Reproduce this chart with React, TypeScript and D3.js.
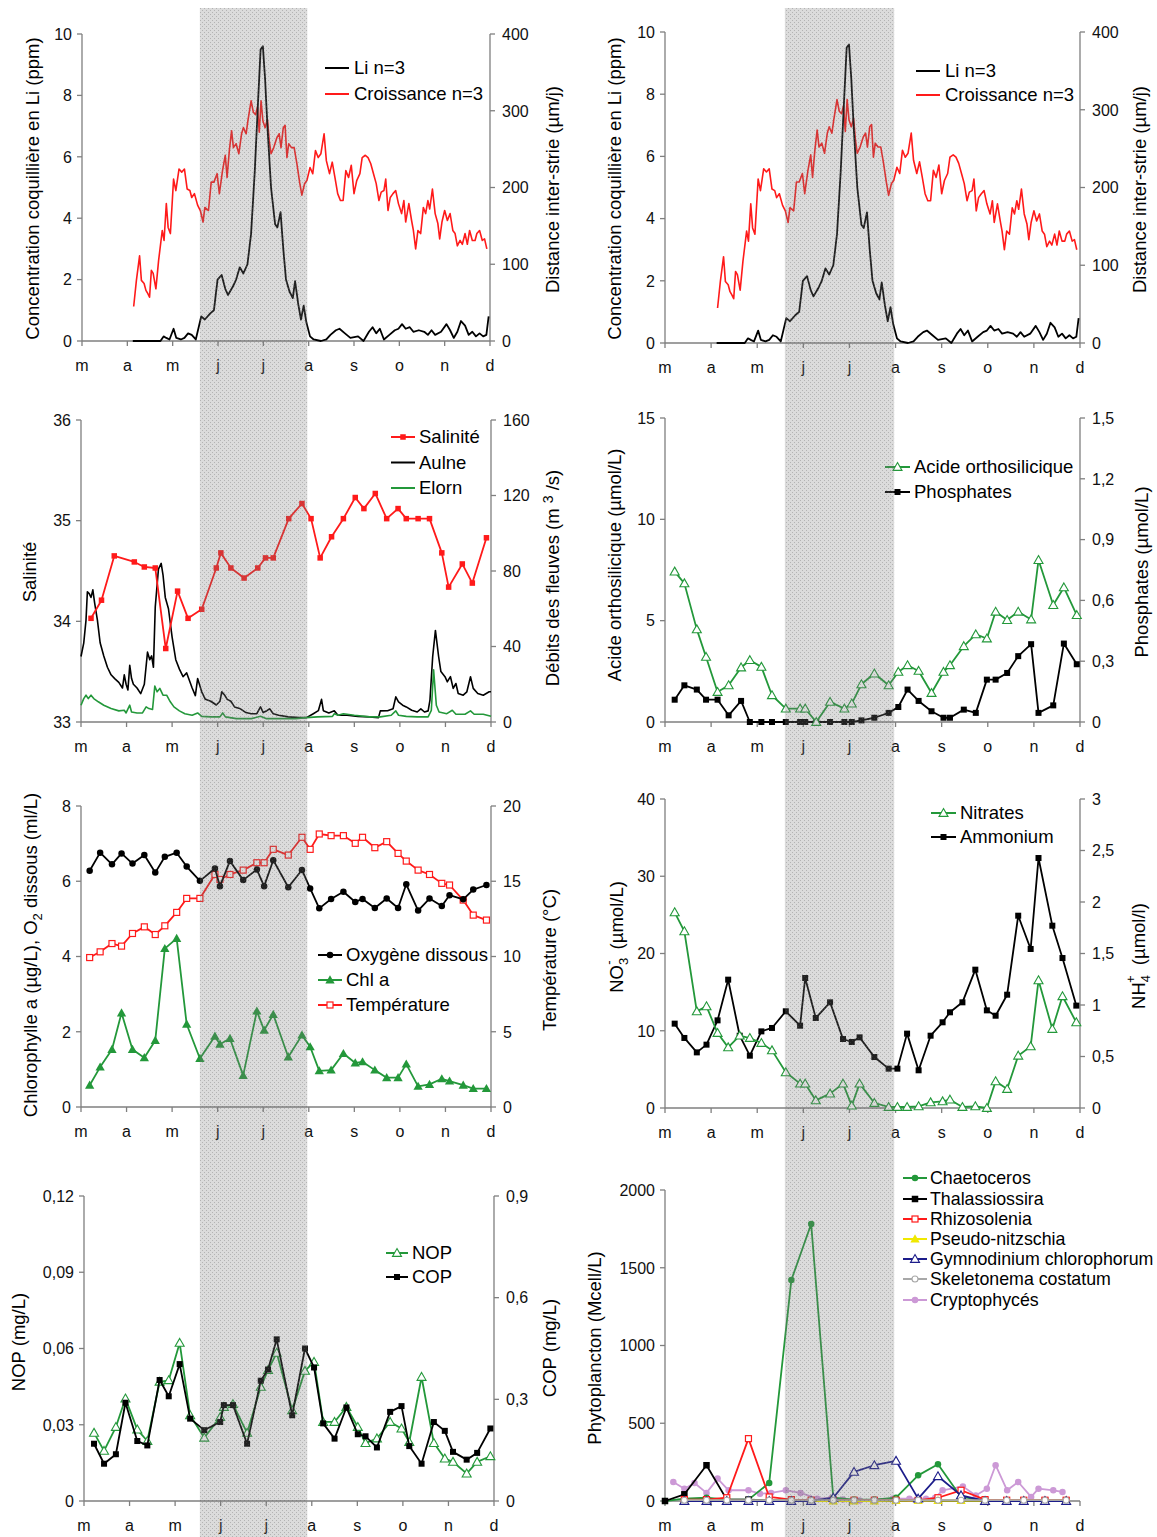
import React from "react";
import * as d3 from "d3";

const FONT = "'Liberation Sans', Arial, Helvetica, sans-serif";
const AXIS_COLOR = "#7f7f7f";
const RED = "#ff1a1a";
const GREEN = "#23983a";
const BLACK = "#000000";
const NAVY = "#1c1c8a";
const YELLOW = "#f0e800";
const GRAY = "#a8a8a8";
const PINK = "#cc99d6";

const MONTHS = ["m", "a", "m", "j", "j", "a", "s", "o", "n", "d"];
const SHADE_PERIOD = [2.6, 4.97];

// ---------- Panel 1 : Li & growth (x = months since 1 March) ----------
const liSeries: [number, number][] = [
  [1.12, 0], [1.73, 0], [1.8, 0.15], [1.86, 0.1], [1.93, 0.05], [2.02, 0.4], [2.08, 0.1], [2.18, 0.05], [2.26, 0.1], [2.34, 0.25],
  [2.42, 0.2], [2.51, 0.05], [2.63, 0.8], [2.71, 0.7], [2.83, 0.9], [2.91, 1.0], [2.99, 2.0], [3.08, 2.15], [3.16, 1.7], [3.22, 1.5],
  [3.32, 1.75], [3.4, 2.0], [3.48, 2.4], [3.56, 2.2], [3.65, 2.5], [3.73, 3.5], [3.81, 5.5], [3.89, 8.0], [3.94, 9.5], [3.99, 9.6],
  [4.04, 8.5], [4.09, 7.0], [4.17, 5.0], [4.26, 3.8], [4.31, 3.7], [4.38, 4.2], [4.44, 3.0], [4.5, 2.0], [4.58, 1.6], [4.65, 1.4],
  [4.7, 1.95], [4.77, 1.2], [4.83, 0.7], [4.89, 1.15], [4.95, 0.6], [5.03, 0.15], [5.11, 0.05], [5.27, 0], [5.39, 0.05], [5.48, 0.2],
  [5.6, 0.35], [5.68, 0.4], [5.8, 0.25], [5.92, 0.1], [6.09, 0.15], [6.21, 0.0], [6.33, 0.3], [6.41, 0.45], [6.49, 0.25], [6.57, 0.4],
  [6.66, 0.05], [6.78, 0.2], [6.9, 0.35], [6.98, 0.4], [7.06, 0.55], [7.14, 0.4], [7.23, 0.45], [7.31, 0.3], [7.43, 0.35], [7.55, 0.3],
  [7.63, 0.2], [7.71, 0.35], [7.79, 0.2], [7.92, 0.3], [8.04, 0.55], [8.12, 0.35], [8.2, 0.1], [8.28, 0.3], [8.36, 0.65], [8.45, 0.5],
  [8.53, 0.2], [8.61, 0.3], [8.69, 0.15], [8.77, 0.25], [8.85, 0.15], [8.92, 0.2], [8.97, 0.8],
];

const growthSeries: [number, number][] = [
  [1.14, 45], [1.2, 79], [1.27, 111], [1.31, 79], [1.37, 75], [1.41, 66], [1.45, 62], [1.49, 57], [1.53, 92], [1.57, 88],
  [1.63, 68], [1.69, 105], [1.77, 144], [1.81, 131], [1.86, 179], [1.9, 148], [1.95, 140], [2.02, 211], [2.07, 196], [2.14, 224],
  [2.2, 220], [2.26, 224], [2.32, 198], [2.38, 196], [2.42, 187], [2.48, 192], [2.55, 177], [2.61, 170], [2.67, 155], [2.71, 174],
  [2.79, 170], [2.85, 207], [2.91, 207], [2.98, 218], [3.03, 192], [3.1, 222], [3.16, 242], [3.2, 213], [3.25, 248], [3.3, 274],
  [3.34, 252], [3.4, 257], [3.46, 244], [3.52, 270], [3.56, 278], [3.62, 270], [3.66, 287], [3.73, 313], [3.78, 298], [3.83, 295],
  [3.87, 305], [3.91, 272], [3.95, 313], [3.99, 287], [4.04, 278], [4.09, 289], [4.13, 261], [4.17, 244], [4.23, 252], [4.3, 265],
  [4.35, 270], [4.39, 252], [4.44, 278], [4.48, 281], [4.52, 239], [4.56, 257], [4.62, 252], [4.68, 252], [4.74, 231], [4.8, 207],
  [4.85, 190], [4.91, 205], [4.96, 209], [5.03, 226], [5.09, 218], [5.15, 248], [5.21, 239], [5.27, 244], [5.34, 270], [5.39, 235],
  [5.46, 218], [5.52, 233], [5.58, 213], [5.64, 192], [5.7, 183], [5.76, 183], [5.82, 222], [5.88, 213], [5.94, 229], [6.0, 192],
  [6.06, 209], [6.13, 218], [6.18, 239], [6.25, 242], [6.31, 239], [6.37, 231], [6.43, 218], [6.49, 205], [6.55, 183], [6.6, 194],
  [6.66, 196], [6.7, 211], [6.75, 170], [6.8, 187], [6.86, 192], [6.92, 196], [6.98, 179], [7.05, 166], [7.1, 183], [7.14, 155],
  [7.21, 179], [7.27, 157], [7.31, 144], [7.36, 120], [7.41, 144], [7.47, 140], [7.53, 174], [7.58, 166], [7.63, 183], [7.67, 172],
  [7.73, 198], [7.79, 166], [7.85, 153], [7.89, 133], [7.94, 155], [8.0, 170], [8.06, 157], [8.12, 166], [8.18, 144], [8.23, 140],
  [8.28, 124], [8.34, 131], [8.39, 126], [8.45, 140], [8.5, 126], [8.55, 144], [8.61, 131], [8.67, 131], [8.71, 140], [8.77, 144],
  [8.83, 131], [8.88, 133], [8.93, 120],
];

// ---------- Panel 2 left : salinity & river flows ----------
const salX = [0.22, 0.45, 0.73, 1.17, 1.39, 1.63, 1.86, 2.12, 2.35, 2.65, 2.97, 3.07, 3.29, 3.58, 3.88, 4.05, 4.22, 4.56, 4.85, 5.05, 5.25, 5.5, 5.76, 6.02, 6.21, 6.46, 6.71, 6.96, 7.14, 7.4, 7.65, 7.92, 8.07, 8.37, 8.59, 8.9];
const salY = [34.03, 34.21, 34.65, 34.59, 34.54, 34.53, 33.73, 34.3, 34.03, 34.12, 34.53, 34.68, 34.53, 34.43, 34.53, 34.63, 34.63, 35.02, 35.17, 35.02, 34.63, 34.84, 35.02, 35.23, 35.12, 35.27, 35.02, 35.12, 35.02, 35.02, 35.02, 34.68, 34.34, 34.57, 34.38, 34.83];

const aulneSeries: [number, number][] = [
  [0.0, 34.7], [0.06, 41.8], [0.11, 54], [0.14, 69], [0.18, 68], [0.22, 66], [0.26, 70], [0.3, 63], [0.36, 54], [0.42, 42],
  [0.5, 35], [0.58, 29], [0.66, 25], [0.74, 23], [0.83, 21], [0.91, 18], [0.95, 25], [0.99, 20], [1.03, 17], [1.07, 30],
  [1.11, 23], [1.15, 20], [1.23, 18], [1.31, 15], [1.39, 20], [1.46, 37], [1.51, 33], [1.55, 35], [1.59, 29], [1.63, 61],
  [1.7, 81], [1.76, 84], [1.8, 78], [1.85, 66], [1.92, 60], [2.0, 45], [2.08, 33], [2.16, 28], [2.24, 24], [2.32, 26],
  [2.38, 22], [2.44, 18], [2.51, 14], [2.56, 23], [2.65, 16], [2.73, 12], [2.85, 11], [2.97, 9], [3.05, 11], [3.09, 16],
  [3.16, 14], [3.21, 12], [3.29, 11], [3.37, 8], [3.5, 7], [3.62, 5], [3.74, 4.4], [3.86, 4.4], [3.94, 8], [4.0, 5],
  [4.08, 6], [4.14, 7], [4.22, 4.4], [4.34, 3.6], [4.55, 2.7], [4.79, 2.3], [4.95, 2.3], [5.1, 4.4], [5.21, 6], [5.28, 12],
  [5.32, 6], [5.44, 4.8], [5.56, 5.9], [5.64, 3.6], [5.84, 3.6], [6.08, 3], [6.33, 2.7], [6.53, 2.3], [6.57, 5.9], [6.73, 6],
  [6.85, 7], [6.91, 13.3], [6.97, 10.7], [7.06, 8.9], [7.14, 8], [7.26, 6.2], [7.38, 5.3], [7.46, 7], [7.54, 5.3], [7.62, 5.9],
  [7.66, 11.6], [7.72, 34.7], [7.78, 48.5], [7.85, 34.7], [7.9, 26.7], [7.99, 24], [8.04, 21.3], [8.11, 24], [8.17, 17.8], [8.23, 20.4],
  [8.28, 15.1], [8.39, 14.2], [8.47, 16], [8.55, 24], [8.61, 17.8], [8.71, 15.1], [8.83, 14.2], [8.96, 16], [9.0, 16],
];

const elornSeries: [number, number][] = [
  [0.0, 8.9], [0.06, 12.4], [0.11, 14.2], [0.16, 12.4], [0.22, 14.2], [0.28, 12.4], [0.38, 10.7], [0.5, 8.9], [0.66, 7.1], [0.83, 5.9],
  [0.95, 6.2], [0.99, 4.8], [1.07, 8.9], [1.11, 5.3], [1.23, 4.8], [1.35, 4.8], [1.43, 8], [1.49, 7.1], [1.57, 6.6], [1.62, 19],
  [1.67, 16], [1.73, 17.8], [1.8, 14.2], [1.88, 14.2], [1.96, 10.7], [2.04, 8], [2.16, 5.9], [2.28, 4.4], [2.44, 3.6], [2.56, 4.8],
  [2.65, 3], [2.85, 2.7], [3.05, 2.7], [3.11, 4.8], [3.17, 2.7], [3.41, 1.8], [3.74, 1.8], [3.94, 3], [4.06, 1.8], [4.39, 1.8],
  [4.71, 1.8], [4.95, 2.3], [5.19, 2.7], [5.52, 3], [5.56, 4.4], [5.64, 3.6], [5.76, 4.4], [6.0, 3.6], [6.33, 2.7], [6.57, 2.7],
  [6.81, 3.6], [6.91, 5.9], [6.97, 3.6], [7.14, 3], [7.38, 2.7], [7.62, 2.7], [7.69, 6.2], [7.74, 27.6], [7.8, 8.9], [7.86, 5.3],
  [8.03, 4.4], [8.15, 6.2], [8.23, 4.1], [8.43, 4.1], [8.55, 5.9], [8.63, 4.1], [8.83, 4.1], [9.0, 3],
];

// ---------- Panel 2 right : silicate & phosphate ----------
const nutX = [0.21, 0.42, 0.69, 0.89, 1.14, 1.38, 1.65, 1.84, 2.09, 2.32, 2.62, 2.93, 3.04, 3.28, 3.58, 3.89, 4.05, 4.26, 4.54, 4.85, 5.06, 5.26, 5.5, 5.78, 6.04, 6.18, 6.48, 6.74, 6.98, 7.17, 7.42, 7.66, 7.94, 8.1, 8.42, 8.65, 8.93];
const siY = [7.42, 6.84, 4.57, 3.21, 1.48, 1.81, 2.69, 3.05, 2.72, 1.32, 0.66, 0.66, 0.66, 0, 0.99, 0.66, 0.91, 1.86, 2.39, 1.81, 2.47, 2.8, 2.52, 1.43, 2.47, 2.8, 3.74, 4.32, 4.12, 5.44, 5.03, 5.44, 5.06, 7.99, 5.77, 6.64, 5.27];
const po4Y = [0.11, 0.181, 0.16, 0.11, 0.11, 0.033, 0.104, 0, 0, 0, 0, 0, 0, 0, 0, 0, 0, 0.008, 0.021, 0.045, 0.074, 0.16, 0.104, 0.053, 0.021, 0.021, 0.061, 0.045, 0.209, 0.209, 0.242, 0.325, 0.384, 0.045, 0.082, 0.387, 0.285];

// ---------- Panel 3 left : O2, Chl a, temperature ----------
const hydroX = [0.19, 0.42, 0.68, 0.89, 1.13, 1.39, 1.63, 1.84, 2.1, 2.32, 2.61, 2.94, 3.05, 3.27, 3.56, 3.86, 4.02, 4.22, 4.55, 4.85, 5.03, 5.23, 5.49, 5.76, 6.02, 6.18, 6.45, 6.71, 6.96, 7.14, 7.4, 7.65, 7.92, 8.09, 8.39, 8.61, 8.9];
const o2Y = [6.28, 6.76, 6.45, 6.74, 6.47, 6.7, 6.23, 6.65, 6.76, 6.39, 6.01, 6.34, 5.87, 6.54, 6.03, 6.31, 5.87, 6.56, 5.84, 6.3, 5.81, 5.28, 5.53, 5.72, 5.45, 5.53, 5.29, 5.54, 5.29, 5.92, 5.22, 5.54, 5.34, 5.63, 5.52, 5.78, 5.9];
const chlY = [0.58, 1.06, 1.53, 2.5, 1.53, 1.31, 1.77, 4.21, 4.48, 2.2, 1.29, 1.88, 1.67, 1.82, 0.84, 2.55, 2.04, 2.46, 1.33, 1.91, 1.6, 0.96, 0.98, 1.42, 1.17, 1.2, 0.98, 0.78, 0.78, 1.14, 0.55, 0.6, 0.75, 0.69, 0.58, 0.49, 0.49];
const tempY = [9.93, 10.31, 10.86, 10.69, 11.53, 11.97, 11.46, 12.04, 12.93, 13.86, 13.86, 15.45, 15.12, 15.45, 15.74, 16.23, 16.23, 17.12, 16.74, 17.92, 17.12, 18.14, 18.03, 18.03, 17.52, 17.92, 17.23, 17.63, 16.85, 16.34, 15.74, 15.45, 14.86, 14.75, 13.75, 12.75, 12.42];

// ---------- Panel 3 right : nitrate & ammonium ----------
const nitX = [0.21, 0.42, 0.69, 0.9, 1.14, 1.37, 1.62, 1.84, 2.09, 2.32, 2.62, 2.93, 3.04, 3.27, 3.58, 3.86, 4.05, 4.22, 4.54, 4.85, 5.04, 5.25, 5.5, 5.76, 6.02, 6.18, 6.45, 6.73, 6.98, 7.17, 7.42, 7.66, 7.93, 8.1, 8.4, 8.62, 8.92];
const no3Y = [25.33, 22.87, 12.51, 13.16, 9.71, 7.85, 9.36, 9.06, 8.41, 7.46, 4.62, 3.15, 3.15, 0.99, 1.86, 3.15, 0.3, 3.15, 0.65, 0.13, 0.13, 0.13, 0.22, 0.73, 0.86, 1.08, 0.13, 0.22, 0, 3.45, 2.46, 6.77, 7.98, 16.53, 10.23, 14.46, 11.09];
const nh4Y = [0.819, 0.68, 0.54, 0.615, 0.851, 1.246, 0.702, 0.508, 0.744, 0.777, 0.939, 0.799, 1.262, 0.874, 1.026, 0.67, 0.641, 0.686, 0.495, 0.382, 0.382, 0.722, 0.366, 0.702, 0.832, 0.929, 1.026, 1.343, 0.948, 0.896, 1.1, 1.867, 1.544, 2.427, 1.77, 1.456, 0.994];

// ---------- Panel 4 left : NOP & COP ----------
const partX = [0.22, 0.44, 0.7, 0.91, 1.17, 1.39, 1.66, 1.86, 2.1, 2.33, 2.64, 2.99, 3.07, 3.27, 3.58, 3.88, 4.04, 4.23, 4.57, 4.85, 5.05, 5.25, 5.5, 5.76, 6.01, 6.18, 6.43, 6.72, 6.97, 7.14, 7.41, 7.68, 7.92, 8.1, 8.4, 8.63, 8.92];
const nopY = [0.0268, 0.0197, 0.0291, 0.0403, 0.0281, 0.0236, 0.0469, 0.0475, 0.0622, 0.0337, 0.0249, 0.033, 0.037, 0.0381, 0.0268, 0.0449, 0.0515, 0.0583, 0.0357, 0.0512, 0.0547, 0.0311, 0.0311, 0.037, 0.0291, 0.0228, 0.0246, 0.0311, 0.0285, 0.0232, 0.0488, 0.0228, 0.0167, 0.0154, 0.0108, 0.0154, 0.0176];
const copY = [0.169, 0.11, 0.138, 0.29, 0.177, 0.164, 0.357, 0.309, 0.404, 0.243, 0.209, 0.233, 0.283, 0.283, 0.169, 0.355, 0.388, 0.477, 0.253, 0.45, 0.394, 0.229, 0.184, 0.276, 0.197, 0.191, 0.158, 0.263, 0.28, 0.162, 0.11, 0.233, 0.207, 0.145, 0.122, 0.142, 0.214];

// ---------- Panel 4 right : phytoplankton ----------
const phytoX = [0, 0.42, 0.9, 1.34, 1.81, 2.26, 2.74, 3.17, 3.65, 4.1, 4.54, 5.01, 5.49, 5.92, 6.42, 6.94, 7.41, 7.78, 8.24, 8.7];
const chaetY = [0, 15, 21, 9, 9, 116, 1421, 1781, 21, 9, 9, 21, 165, 236, 26, 4, 2, 2, 2, 2];
const thalY = [0, 43, 230, 9, 9, 4, 4, 4, 4, 3, 3, 3, 3, 3, 3, 3, 3, 3, 3, 3];
const rhizY = [null, 9, 9, 21, 401, 26, 9, 5, 5, 5, 5, 5, 4, 21, 69, 9, 5, 5, 5, 5];
const pseudoY = [null, 3, 3, 3, 3, 3, 2, 0, 0, 0, 0, 3, 3, 3, 3, 2, 2, 2, 2, 2];
const gymnoY = [null, 0, 0, 0, 0, 0, 0, 0, 21, 187, 230, 258, 15, 159, 36, 0, 0, 0, 0, 0];
const skelY = [null, 5, 5, 5, 5, 5, 5, 5, 5, 5, 5, 5, 5, 5, 5, 5, 5, 5, 5, 5];
const cryptoX = [0.18, 0.42, 0.64, 0.9, 1.14, 1.38, 1.81, 2.06, 2.3, 2.62, 2.94, 3.3, 3.62, 3.86, 4.22, 4.54, 4.94, 5.3, 5.66, 5.86, 6.02, 6.46, 6.74, 6.98, 7.17, 7.42, 7.66, 7.94, 8.1, 8.42, 8.62];
const cryptoY = [122, 79, 116, 52, 144, 69, 69, 47, 52, 69, 52, 15, 21, 9, 4, 9, 15, 15, 15, 21, 69, 94, 36, 79, 230, 69, 122, 26, 79, 69, 58];

// ---------- Tick values ----------
const liTicks = [0, 2, 4, 6, 8, 10];
const growthTicks = [0, 100, 200, 300, 400];
const salTicks = [33, 34, 35, 36];
const flowTicks = [0, 40, 80, 120, 160];
const siTicks = [0, 5, 10, 15];
const po4Ticks = [0, 0.3, 0.6, 0.9, 1.2, 1.5];
const chlTicks = [0, 2, 4, 6, 8];
const tempTicks = [0, 5, 10, 15, 20];
const no3Ticks = [0, 10, 20, 30, 40];
const nh4Ticks = [0, 0.5, 1, 1.5, 2, 2.5, 3];
const nopTicks = [0, 0.03, 0.06, 0.09, 0.12];
const copTicks = [0, 0.3, 0.6, 0.9];
const phytoTicks = [0, 500, 1000, 1500, 2000];

const fr = d3.formatLocale({ decimal: ",", thousands: " ", grouping: [3], currency: ["", " €"] });
const fmt = fr.format("~g");

const TITLE_SIZE = 18.5;
const LEGEND_SIZE = 18.5;
const TICK_SIZE = 16;

type Pt = [number, number | null];
type Mk = "sq" | "sqo" | "tri" | "trio" | "ci" | "cio" | "none";
interface Series { pts: Pt[]; axis: "L" | "R"; color: string; mk: Mk; w?: number; ms?: number; }
interface LegendItem { label: string; color: string; mk: Mk; ms?: number; }
interface Cfg {
  x0: number; x1: number; top: number; bottom: number;
  lDom: [number, number]; lTicks: number[];
  rDom?: [number, number]; rTicks?: number[];
  lTitle: React.ReactNode; lTitlePos: [number, number];
  rTitle?: React.ReactNode; rTitlePos?: [number, number];
  series: Series[];
  legend: { x1: number; x2: number; tx: number; ys: number[]; items: LegendItem[]; size?: number };
}

const zipPts = (xs: number[], ys: (number | null)[]): Pt[] => xs.map((x, i) => [x, ys[i]] as Pt);

function marker(mk: Mk, cx: number, cy: number, color: string, s: number, key?: React.Key) {
  const h = s / 2;
  switch (mk) {
    case "sq":
      return <rect key={key} x={cx - h} y={cy - h} width={s} height={s} fill={color} />;
    case "sqo":
      return <rect key={key} x={cx - h + 0.5} y={cy - h + 0.5} width={s - 1} height={s - 1} fill="#fff" stroke={color} strokeWidth={1.2} />;
    case "tri": {
      const r = s * 0.62;
      return <path key={key} d={`M${cx},${cy - r}L${cx + r},${cy + r * 0.75}L${cx - r},${cy + r * 0.75}Z`} fill={color} />;
    }
    case "trio": {
      const r = s * 0.6;
      return <path key={key} d={`M${cx},${cy - r}L${cx + r},${cy + r * 0.75}L${cx - r},${cy + r * 0.75}Z`} fill="#fff" stroke={color} strokeWidth={1.1} />;
    }
    case "ci":
      return <circle key={key} cx={cx} cy={cy} r={h} fill={color} />;
    case "cio":
      return <circle key={key} cx={cx} cy={cy} r={h - 0.5} fill="#fff" stroke={color} strokeWidth={1.1} />;
    default:
      return null;
  }
}

function Panel({ c }: { c: Cfg }) {
  const x = d3.scaleLinear().domain([0, 9]).range([c.x0, c.x1]);
  const yl = d3.scaleLinear().domain(c.lDom).range([c.bottom, c.top]);
  const yr = c.rDom ? d3.scaleLinear().domain(c.rDom).range([c.bottom, c.top]) : yl;
  const tl = 5;
  const axisProps = { stroke: AXIS_COLOR, strokeWidth: 1.3 };
  return (
    <g fontFamily={FONT}>
      <line x1={c.x0} y1={c.top} x2={c.x0} y2={c.bottom} {...axisProps} />
      <line x1={c.x0} y1={c.bottom} x2={c.x1} y2={c.bottom} {...axisProps} />
      {c.rDom && <line x1={c.x1} y1={c.top} x2={c.x1} y2={c.bottom} {...axisProps} />}
      {c.lTicks.map((t) => (
        <g key={"l" + t}>
          <line x1={c.x0 - tl} x2={c.x0} y1={yl(t)} y2={yl(t)} {...axisProps} />
          <text x={c.x0 - 10} y={yl(t)} dy="0.36em" textAnchor="end" fontSize={TICK_SIZE} fill="#111">{fmt(t)}</text>
        </g>
      ))}
      {c.rDom && c.rTicks && c.rTicks.map((t) => (
        <g key={"r" + t}>
          <line x1={c.x1} x2={c.x1 + tl} y1={yr(t)} y2={yr(t)} {...axisProps} />
          <text x={c.x1 + 12} y={yr(t)} dy="0.36em" textAnchor="start" fontSize={TICK_SIZE} fill="#111">{fmt(t)}</text>
        </g>
      ))}
      {MONTHS.map((m, i) => (
        <g key={"m" + i}>
          <line x1={x(i)} x2={x(i)} y1={c.bottom} y2={c.bottom + tl} {...axisProps} />
          <text x={x(i)} y={c.bottom + 30} textAnchor="middle" fontSize={TICK_SIZE} fill="#111">{m}</text>
        </g>
      ))}
      {c.series.map((s, si) => {
        const ys = s.axis === "R" ? yr : yl;
        const gen = d3.line<Pt>().defined((d) => d[1] != null).x((d) => x(d[0])).y((d) => ys(d[1] as number));
        return (
          <g key={"s" + si}>
            <path d={gen(s.pts) || ""} fill="none" stroke={s.color} strokeWidth={s.w ?? 1.8} strokeLinejoin="round" />
            {s.mk !== "none" && s.pts.filter((d) => d[1] != null).map((d, i) => marker(s.mk, x(d[0]), ys(d[1] as number), s.color, s.ms ?? 6, i))}
          </g>
        );
      })}
      {c.legend.items.map((it, i) => {
        const y = c.legend.ys[i];
        return (
          <g key={"lg" + i}>
            <line x1={c.legend.x1} x2={c.legend.x2} y1={y} y2={y} stroke={it.color} strokeWidth={2} />
            {marker(it.mk, (c.legend.x1 + c.legend.x2) / 2, y, it.color, it.ms ?? 6)}
            <text x={c.legend.tx} y={y} dy="0.35em" fontSize={c.legend.size ?? LEGEND_SIZE} fill="#000">{it.label}</text>
          </g>
        );
      })}
      <text transform={`translate(${c.lTitlePos[0]},${c.lTitlePos[1]}) rotate(-90)`} textAnchor="middle" dy="0.35em" fontSize={TITLE_SIZE} fill="#000">{c.lTitle}</text>
      {c.rTitle && c.rTitlePos && (
        <text transform={`translate(${c.rTitlePos[0]},${c.rTitlePos[1]}) rotate(-90)`} textAnchor="middle" dy="0.35em" fontSize={TITLE_SIZE} fill="#000">{c.rTitle}</text>
      )}
    </g>
  );
}

function liPanel(x0: number, x1: number, top: number, bottom: number, lx: number, rx: number, lgX: number, lgY: number[]): Cfg {
  return {
    x0, x1, top, bottom,
    lDom: [0, 10], lTicks: liTicks,
    rDom: [0, 400], rTicks: growthTicks,
    lTitle: "Concentration coquillière en Li (ppm)", lTitlePos: [lx, (top + bottom) / 2 + 1],
    rTitle: "Distance inter-strie (µm/j)", rTitlePos: [rx, (top + bottom) / 2 + 2],
    series: [
      { pts: growthSeries, axis: "R", color: RED, mk: "none", w: 1.6 },
      { pts: liSeries, axis: "L", color: BLACK, mk: "none", w: 1.8 },
    ],
    legend: {
      x1: lgX, x2: lgX + 24, tx: lgX + 29, ys: lgY,
      items: [
        { label: "Li n=3", color: BLACK, mk: "none" },
        { label: "Croissance n=3", color: RED, mk: "none" },
      ],
    },
  };
}

export default function App() {
  const xl = d3.scaleLinear().domain([0, 9]).range([82, 490]);
  const xr = d3.scaleLinear().domain([0, 9]).range([665, 1080]);

  const panels: Cfg[] = [
    liPanel(82, 490, 34, 341, 33, 553, 325, [68, 94]),
    liPanel(665, 1080, 32, 343, 615, 1140, 916, [71, 95]),
    {
      x0: 81, x1: 491, top: 420, bottom: 722,
      lDom: [33, 36], lTicks: salTicks,
      rDom: [0, 160], rTicks: flowTicks,
      lTitle: "Salinité", lTitlePos: [30, 572],
      rTitle: (<>Débits des fleuves (m <tspan dy={-6} fontSize={14}>3</tspan><tspan dy={6}> /s)</tspan></>), rTitlePos: [553, 578],
      series: [
        { pts: aulneSeries, axis: "R", color: BLACK, mk: "none", w: 1.6 },
        { pts: elornSeries, axis: "R", color: GREEN, mk: "none", w: 1.6 },
        { pts: zipPts(salX, salY), axis: "L", color: RED, mk: "sq", ms: 5.5 },
      ],
      legend: {
        x1: 391, x2: 415, tx: 419, ys: [437, 462.5, 488],
        items: [
          { label: "Salinité", color: RED, mk: "sq", ms: 5.5 },
          { label: "Aulne", color: BLACK, mk: "none" },
          { label: "Elorn", color: GREEN, mk: "none" },
        ],
      },
    },
    {
      x0: 665, x1: 1080, top: 418, bottom: 722,
      lDom: [0, 15], lTicks: siTicks,
      rDom: [0, 1.5], rTicks: po4Ticks,
      lTitle: "Acide orthosilicique (µmol/L)", lTitlePos: [615, 565],
      rTitle: "Phosphates (µmol/L)", rTitlePos: [1142, 572],
      series: [
        { pts: zipPts(nutX, po4Y), axis: "R", color: BLACK, mk: "sq", ms: 6 },
        { pts: zipPts(nutX, siY), axis: "L", color: GREEN, mk: "trio", ms: 7.5 },
      ],
      legend: {
        x1: 885, x2: 910, tx: 914, ys: [467, 492],
        items: [
          { label: "Acide orthosilicique", color: GREEN, mk: "trio", ms: 7.5 },
          { label: "Phosphates", color: BLACK, mk: "sq", ms: 6 },
        ],
      },
    },
    {
      x0: 81, x1: 491, top: 806, bottom: 1107,
      lDom: [0, 8], lTicks: chlTicks,
      rDom: [0, 20], rTicks: tempTicks,
      lTitle: (<>Chlorophylle a (µg/L), O<tspan dy={5} fontSize={13}>2</tspan><tspan dy={-5}> dissous (ml/L)</tspan></>), lTitlePos: [31, 955],
      rTitle: "Température (°C)", rTitlePos: [550, 960],
      series: [
        { pts: zipPts(hydroX, tempY), axis: "R", color: RED, mk: "sqo", ms: 7 },
        { pts: zipPts(hydroX, o2Y), axis: "L", color: BLACK, mk: "ci", ms: 6.5 },
        { pts: zipPts(hydroX, chlY), axis: "L", color: GREEN, mk: "tri", ms: 7.5 },
      ],
      legend: {
        x1: 318, x2: 342, tx: 346, ys: [955, 980, 1005],
        items: [
          { label: "Oxygène dissous", color: BLACK, mk: "ci", ms: 6.5 },
          { label: "Chl a", color: GREEN, mk: "tri", ms: 7.5 },
          { label: "Température", color: RED, mk: "sqo", ms: 7 },
        ],
      },
    },
    {
      x0: 665, x1: 1080, top: 799, bottom: 1108,
      lDom: [0, 40], lTicks: no3Ticks,
      rDom: [0, 3], rTicks: nh4Ticks,
      lTitle: (<>NO<tspan dy={5} fontSize={13}>3</tspan><tspan dx={-7} dy={-15} fontSize={13}>-</tspan><tspan dx={6} dy={10}>  (µmol/L)</tspan></>), lTitlePos: [617, 937],
      rTitle: (<>NH<tspan dy={5} fontSize={13}>4</tspan><tspan dx={-8} dy={-15} fontSize={13}>+</tspan><tspan dx={5} dy={10}> (µmol/l)</tspan></>), rTitlePos: [1139, 956],
      series: [
        { pts: zipPts(nitX, nh4Y), axis: "R", color: BLACK, mk: "sq", ms: 6 },
        { pts: zipPts(nitX, no3Y), axis: "L", color: GREEN, mk: "trio", ms: 7.5 },
      ],
      legend: {
        x1: 931, x2: 956, tx: 960, ys: [813, 837],
        items: [
          { label: "Nitrates", color: GREEN, mk: "trio", ms: 7.5 },
          { label: "Ammonium", color: BLACK, mk: "sq", ms: 6 },
        ],
      },
    },
    {
      x0: 84, x1: 494, top: 1196, bottom: 1501,
      lDom: [0, 0.12], lTicks: nopTicks,
      rDom: [0, 0.9], rTicks: copTicks,
      lTitle: "NOP (mg/L)", lTitlePos: [19, 1342],
      rTitle: "COP (mg/L)", rTitlePos: [550, 1348],
      series: [
        { pts: zipPts(partX, nopY), axis: "L", color: GREEN, mk: "trio", ms: 7.5 },
        { pts: zipPts(partX, copY), axis: "R", color: BLACK, mk: "sq", ms: 6 },
      ],
      legend: {
        x1: 386, x2: 408, tx: 412, ys: [1253, 1277],
        items: [
          { label: "NOP", color: GREEN, mk: "trio", ms: 7.5 },
          { label: "COP", color: BLACK, mk: "sq", ms: 6 },
        ],
      },
    },
    {
      x0: 665, x1: 1080, top: 1190, bottom: 1501,
      lDom: [0, 2000], lTicks: phytoTicks,
      lTitle: "Phytoplancton (Mcell/L)", lTitlePos: [595, 1348],
      series: [
        { pts: zipPts(cryptoX, cryptoY), axis: "L", color: PINK, mk: "ci", ms: 6.5 },
        { pts: zipPts(phytoX, chaetY), axis: "L", color: GREEN, mk: "ci", ms: 6.5 },
        { pts: zipPts(phytoX, thalY), axis: "L", color: BLACK, mk: "sq", ms: 6.5 },
        { pts: zipPts(phytoX, rhizY), axis: "L", color: RED, mk: "sqo", ms: 7 },
        { pts: zipPts(phytoX, pseudoY), axis: "L", color: YELLOW, mk: "tri", ms: 7.5 },
        { pts: zipPts(phytoX, gymnoY), axis: "L", color: NAVY, mk: "trio", ms: 7.5 },
        { pts: zipPts(phytoX, skelY), axis: "L", color: GRAY, mk: "cio", ms: 7 },
      ],
      legend: {
        x1: 903, x2: 927, tx: 930, ys: [1178, 1199, 1219, 1239, 1259, 1279, 1300], size: 17.8,
        items: [
          { label: "Chaetoceros", color: GREEN, mk: "ci", ms: 6.5 },
          { label: "Thalassiossira", color: BLACK, mk: "sq", ms: 6.5 },
          { label: "Rhizosolenia", color: RED, mk: "sqo", ms: 7 },
          { label: "Pseudo-nitzschia", color: YELLOW, mk: "tri", ms: 7.5 },
          { label: "Gymnodinium chlorophorum", color: NAVY, mk: "trio", ms: 7.5 },
          { label: "Skeletonema costatum", color: GRAY, mk: "cio", ms: 7 },
          { label: "Cryptophycés", color: PINK, mk: "ci", ms: 6.5 },
        ],
      },
    },
  ];

  return (
    <svg
      width={1157}
      height={1537}
      viewBox="0 0 1157 1537"
      style={{ position: "absolute", left: 0, top: 0, display: "block" }}
    >
      <defs>
        <pattern id="shade" width={4} height={4} patternUnits="userSpaceOnUse">
          <rect width={4} height={4} fill="#7a7a7a" fillOpacity={0.27} />
          <rect x={0} y={0} width={1} height={1} fill="#555" fillOpacity={0.3} />
          <rect x={2} y={2} width={1} height={1} fill="#555" fillOpacity={0.3} />
        </pattern>
      </defs>
      <rect x={0} y={0} width={1157} height={1537} fill="#fff" />
      {panels.map((p, i) => (
        <Panel key={i} c={p} />
      ))}
      <rect x={xl(SHADE_PERIOD[0])} y={8} width={xl(SHADE_PERIOD[1]) - xl(SHADE_PERIOD[0])} height={1529} fill="url(#shade)" />
      <rect x={xr(SHADE_PERIOD[0])} y={8} width={xr(SHADE_PERIOD[1]) - xr(SHADE_PERIOD[0])} height={1529} fill="url(#shade)" />
    </svg>
  );
}
